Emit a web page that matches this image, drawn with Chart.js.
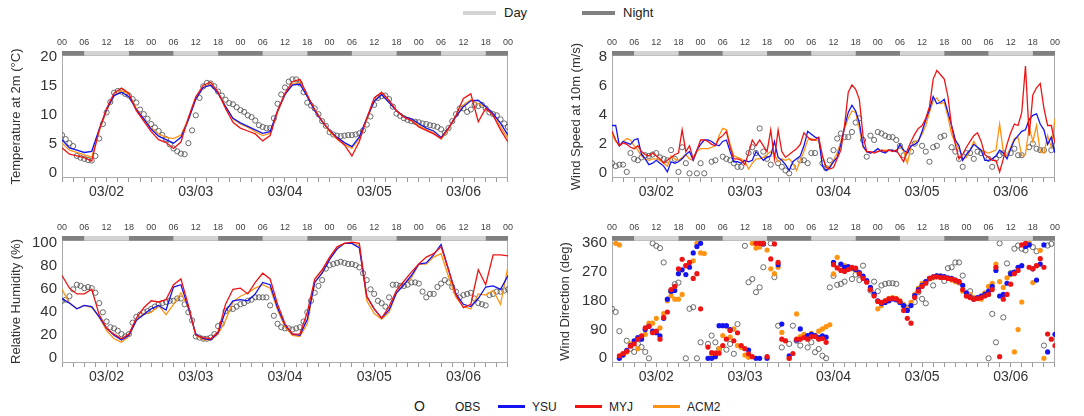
<!DOCTYPE html>
<html>
<head>
<meta charset="utf-8">
<title>Surface variables: OBS vs YSU / MYJ / ACM2</title>
<script src="https://cdn.jsdelivr.net/npm/chart.js@4.4.1/dist/chart.umd.min.js"></script>
<style>
  body { margin:0; width:1084px; height:416px; background:#fff; position:relative; overflow:hidden;
         font-family:"Liberation Sans", Arial, sans-serif; color:#222; }
  canvas { position:absolute; }
  .txt { position:absolute; white-space:nowrap; line-height:16px; }
  .sw { position:absolute; }
</style>
</head>
<body>
<div class="sw" style="left:463px;top:11px;width:33px;height:4px;background:#d4d4d4"></div>
<div class="txt" style="left:504px;top:5px;font-size:13px">Day</div>
<div class="sw" style="left:582px;top:11px;width:33px;height:4px;background:#808080"></div>
<div class="txt" style="left:623px;top:5px;font-size:13px">Night</div>

<canvas id="cT" width="520" height="180" style="left:0;top:28px"></canvas>
<canvas id="cW" width="527" height="180" style="left:540px;top:28px"></canvas>
<canvas id="cR" width="520" height="181" style="left:0;top:212px"></canvas>
<canvas id="cD" width="527" height="181" style="left:540px;top:212px"></canvas>
<div id="legend"></div>

<script>
// time axis: hours since 03/01 00 (local), top axis = local hour, bottom = date
const HOUR_TICKS  = [0,6,12,18,24,30,36,42,48,54,60,66,72,78,84,90,96,102,108,114,120];
const HOUR_LABELS = ['00','06','12','18','00','06','12','18','00','06','12','18','00','06','12','18','00','06','12','18','00'];
const MINOR_TICKS = [0,3,6,9,12,15,18,21,24,27,30,33,36,39,42,45,48,51,54,57,60,63,66,69,72,75,78,81,84,87,90,93,96,99,102,105,108,111,114,117,120];
const DATE_TICKS  = [12,36,60,84,108];
const DATE_LABELS = ['03/02','03/03','03/04','03/05','03/06'];
const DAY_SPANS   = [[6,18],[30,42],[54,66],[78,90],[102,114]];
const NIGHT_SPANS = [[0,6],[18,30],[42,54],[66,78],[90,102],[114,120]];

const BLUE = '#1414f0', RED = '#ee1414', ORANGE = '#ff9412', OBS_GREY = '#5a5a5a';

// ---- Temperature at 2 m (OBS hourly, models every 2 h)
const TEMP_OBS = [
  6.6,5.9,5.2,4.7,3.0,2.7,2.5,2.3,2.2,3.0,
  6.0,8.5,10.5,12.3,13.9,14.2,14.1,13.7,13.4,12.8,
  12.2,11.0,10.2,9.4,8.5,7.9,7.3,6.6,5.9,5.0,
  4.3,3.8,3.4,3.3,5.2,7.4,10.0,13.0,15.0,15.6,
  15.5,15.0,14.1,13.4,12.7,12.1,11.9,11.4,10.9,10.6,
  10.0,9.7,9.1,8.3,8.0,7.8,7.8,9.5,12.0,13.6,
  14.8,15.8,16.2,16.2,15.5,14.0,12.2,11.7,11.2,10.2,
  9.0,8.2,7.1,6.7,6.5,6.4,6.5,6.6,6.6,6.7,
  6.9,7.4,8.4,9.8,11.8,13.0,13.3,13.4,12.8,11.5,
  10.3,9.9,9.5,9.2,9.0,8.9,8.8,8.6,8.5,8.3,
  8.2,8.0,7.6,7.0,7.8,9.0,10.2,11.2,11.2,10.6,
  11.0,11.8,11.6,11.8,11.2,10.5,10.2,10.0,9.3,8.6,
  8.0];
const TEMP_YSU = [
  5.8,4.4,4.0,3.6,3.8,7.6,11.0,13.4,14.0,13.2,
  11.0,9.4,7.6,6.4,5.8,5.2,6.2,9.2,12.8,14.8,
  15.2,13.8,11.5,9.5,8.7,8.1,7.5,6.9,7.2,10.8,
  13.6,15.2,15.4,13.2,10.8,8.9,7.4,6.2,5.3,4.6,
  6.3,9.5,12.4,13.6,12.2,10.8,9.8,9.4,8.6,7.8,
  7.3,6.2,7.8,9.8,11.5,12.5,12.6,11.5,10.3,8.6,
  6.6];
const TEMP_MYJ = [
  4.4,3.3,3.0,2.7,2.1,7.5,11.2,13.8,14.7,13.8,
  10.8,9.0,7.2,5.8,5.3,4.3,5.4,9.6,13.2,15.2,
  15.7,14.0,11.2,8.8,7.8,7.3,6.8,5.6,6.5,10.8,
  13.8,15.8,16.2,13.5,11.0,9.0,7.4,6.0,4.9,3.0,
  5.5,9.5,13.0,14.0,12.6,10.8,9.7,9.1,8.0,7.4,
  6.8,6.0,7.8,10.0,12.9,13.7,8.9,11.2,10.0,7.5,
  5.4];
const TEMP_ACM2 = [
  5.2,4.0,3.6,3.2,2.8,7.2,10.8,13.4,14.3,13.6,
  11.2,9.4,7.8,6.8,6.2,6.0,6.6,9.4,12.8,14.8,
  15.3,14.0,11.6,9.4,8.5,7.9,7.2,6.5,6.9,10.5,
  13.6,15.4,15.7,13.3,10.9,8.9,7.2,5.9,5.0,4.3,
  6.0,9.2,12.5,13.7,12.4,10.8,9.8,9.4,8.2,7.5,
  7.0,5.9,7.6,9.8,11.8,12.7,12.0,11.5,10.0,8.0,
  6.0];

// ---- Wind speed at 10 m (all hourly)
const WS_OBS = [
  0.7,0.5,0.6,0.6,0.1,1.4,1.0,0.9,1.1,1.25,
  1.2,1.3,1.4,1.1,1.0,0.9,1.6,1.0,0.1,1.8,
  0.7,0.0,null,0.0,0.7,0.0,null,0.8,0.9,null,
  1.15,1.0,0.9,0.7,0.45,0.45,null,1.4,1.8,1.4,
  3.1,1.5,1.0,0.6,null,0.7,0.45,0.2,0.0,0.45,
  null,0.9,0.9,0.7,1.4,1.4,null,0.7,0.35,0.9,
  1.6,2.4,2.75,2.5,2.5,2.85,3.5,3.8,2.3,1.15,
  2.6,2.3,2.85,2.75,2.6,2.5,2.5,2.3,1.9,1.25,
  null,1.5,2.05,null,1.9,1.5,0.8,1.8,1.9,2.5,
  2.6,null,1.8,1.5,1.0,0.45,1.4,1.4,1.0,1.5,
  1.4,null,1.0,0.45,1.0,1.25,1.4,null,1.4,1.7,
  1.25,1.25,null,1.8,2.05,1.7,1.6,1.6,null,1.6,
  1.9];
const WS_YSU = [
  3.3,3.3,1.9,2.2,2.1,2.0,2.3,2.4,1.3,1.0,
  0.6,0.7,0.9,0.7,0.5,0.1,0.8,0.7,0.8,1.0,
  1.3,1.5,0.9,1.6,2.0,2.3,2.3,2.2,2.0,1.9,
  2.2,2.3,1.5,0.8,0.8,0.7,0.9,0.8,0.9,1.5,
  1.2,0.9,1.1,1.2,2.2,1.1,0.9,0.6,0.2,0.8,
  1.0,1.2,1.9,2.9,2.7,2.5,2.4,0.5,0.2,0.4,
  0.8,1.1,2.0,3.2,4.2,4.7,4.3,3.5,1.9,1.5,
  1.4,1.5,1.7,1.5,1.4,1.6,1.6,1.5,2.0,1.6,
  1.4,1.9,2.0,2.2,2.9,3.7,4.4,5.3,4.8,4.9,
  5.1,4.2,3.3,2.3,1.9,0.9,1.3,1.6,2.0,1.8,
  1.6,0.9,0.9,1.0,1.2,1.6,1.4,1.0,1.7,2.3,
  2.6,2.9,3.0,3.7,4.0,4.1,3.4,3.0,2.0,2.5,
  1.4];
const WS_MYJ = [
  2.9,2.3,1.9,2.1,2.0,1.8,1.7,1.9,1.5,1.3,
  1.2,1.4,1.2,1.0,0.7,0.9,1.1,1.3,1.4,3.0,
  1.5,1.9,1.0,1.6,2.3,2.3,2.2,2.0,1.9,2.4,
  2.6,2.9,1.8,1.0,1.0,0.9,0.6,1.4,2.3,1.9,
  2.3,1.9,1.5,3.0,1.0,3.0,1.5,1.1,1.3,1.5,
  1.7,2.0,2.8,2.5,2.3,2.3,2.5,1.2,0.4,0.3,
  0.4,1.0,1.6,3.3,5.6,6.1,5.8,5.1,2.6,1.5,
  1.5,1.4,1.5,1.6,1.5,1.6,1.5,1.6,1.2,0.8,
  1.6,2.2,2.7,3.1,3.3,3.8,4.6,6.5,7.1,6.8,
  6.5,5.3,3.2,2.0,1.0,1.3,1.8,2.2,2.6,2.8,
  2.2,1.3,1.1,0.9,0.9,0.1,1.0,2.0,2.8,3.4,
  3.3,4.2,7.4,2.6,5.4,5.9,6.2,4.5,3.3,3.3,
  2.1];
const WS_ACM2 = [
  2.7,2.2,1.9,2.2,2.4,2.3,1.9,1.6,1.2,1.0,
  0.9,1.0,1.0,0.9,0.7,0.5,1.2,1.0,0.9,1.1,
  1.3,1.0,0.9,1.5,1.7,1.7,1.7,1.8,1.9,2.6,
  3.1,3.0,2.0,1.2,1.1,1.0,0.8,0.3,0.7,1.0,
  1.0,1.1,1.3,1.5,1.3,0.8,1.0,0.9,1.0,0.7,
  0.2,0.9,1.5,2.3,2.4,2.3,2.2,1.2,0.4,0.5,
  0.9,1.4,2.2,3.1,3.8,4.3,4.2,3.1,1.8,1.5,
  1.4,1.5,1.5,1.6,1.6,1.6,1.6,1.5,1.9,1.5,
  0.7,1.8,2.2,2.3,2.7,3.3,4.2,5.0,5.2,4.8,
  4.9,3.9,2.7,2.1,1.7,1.0,1.1,1.6,2.2,1.8,
  1.6,1.5,1.4,1.5,1.6,3.4,1.5,1.2,1.8,2.4,
  2.5,1.2,1.3,3.2,2.2,3.3,1.5,1.4,2.6,1.8,
  3.8];

// ---- Relative humidity (OBS hourly, models every 2 h)
const RH_OBS = [
  50,51,54,60,64,63,61,62,61,57,
  48,40,32,27,26,24,21,19,21,31,
  36,38,40,41,43,45,47,48,49,50,
  50,52,52,47,40,33,19,18,17,17,
  18,21,28,30,41,43,43,45,47,48,
  50,51,53,53,53,53,46,37,30,27,
  26,26,25,26,27,32,40,50,57,63,
  68,78,81,82,83,84,83,82,82,81,
  79,74,68,60,56,50,48,45,53,64,
  64,63,63,64,66,66,65,58,53,56,
  56,62,65,68,66,62,58,53,55,56,
  57,52,48,47,46,55,56,58,58,59,
  60];
const RH_YSU = [
  52,48,43,46,45,36,26,20,16,20,
  33,38,43,46,42,62,64,44,21,17,
  16,22,41,50,51,50,56,66,64,44,
  29,21,20,34,66,74,86,95,100,100,
  96,54,43,35,42,57,64,72,82,83,
  90,99,77,56,47,45,52,62,63,60,
  72];
const RH_MYJ = [
  72,61,56,56,60,38,26,21,17,21,
  35,44,50,49,51,64,69,46,20,18,
  17,23,47,60,61,56,66,74,69,47,
  30,21,21,40,69,77,88,97,100,101,
  100,54,43,35,45,59,67,75,82,88,
  91,97,77,55,44,47,77,64,90,90,
  89];
const RH_ACM2 = [
  60,48,43,46,44,36,24,17,14,19,
  33,39,40,46,38,47,57,44,20,16,
  16,21,33,49,54,57,61,64,61,42,
  27,20,19,30,66,75,86,96,100,100,
  98,50,39,34,40,57,64,70,82,82,
  88,91,71,53,45,43,56,55,59,47,
  80];

// ---- Wind direction (all hourly, points only)
const WD_OBS = [
  155,145,85,null,55,30,20,45,35,20,
  0,360,352,345,300,null,210,232,237,null,
  0,155,160,0,50,null,45,71,50,29,
  null,27,45,14,107,null,352,238,248,207,
  222,285,null,360,254,102,34,null,45,102,
  55,40,null,34,50,19,29,8,0,222,
  258,230,233,240,null,248,262,245,290,null,
  212,240,210,228,233,235,235,233,null,165,
  158,null,176,207,186,172,null,228,257,null,
  242,282,285,300,300,259,null,210,null,null,
  null,null,0,139,50,360,128,297,267,343,
  353,343,338,358,348,335,null,40,353,358,
  null];
const WD_YSU = [
  null,null,0,10,25,40,55,65,60,90,
  100,85,80,70,125,185,210,212,265,277,
  262,285,330,350,360,null,0,0,5,102,
  102,102,90,null,null,null,null,26,null,0,
  0,358,0,null,null,293,107,null,8,null,
  57,92,null,71,75,71,65,70,66,null,
  300,null,295,285,287,283,278,268,257,243,
  222,201,180,172,175,180,186,183,175,165,
  150,165,196,215,228,240,250,255,258,257,
  256,252,250,245,240,228,205,192,185,190,
  195,200,210,225,275,195,200,235,265,270,
  285,290,350,355,280,245,295,355,20,null,
  75];
const WD_MYJ = [
  null,null,8,15,22,38,45,60,70,95,
  100,80,85,60,128,145,215,225,280,310,
  290,300,250,265,155,null,35,18,16,16,
  40,60,87,55,80,40,30,14,5,360,
  360,360,5,311,358,300,60,55,0,15,
  60,60,65,60,68,68,60,62,50,null,
  293,283,275,272,278,285,282,264,250,238,
  215,195,178,175,180,186,188,186,178,150,
  125,110,190,210,225,235,250,255,255,253,
  253,250,248,245,240,215,195,190,185,187,
  190,195,200,215,285,5,185,200,232,265,
  275,355,360,285,280,290,312,285,76,60,
  40];
const WD_ACM2 = [
  null,360,355,14,20,45,50,30,65,75,
  110,110,125,95,140,180,196,185,185,200,
  290,300,305,360,330,328,null,10,null,30,
  71,100,66,92,40,34,10,3,360,345,
  348,358,339,280,265,285,81,55,0,null,
  139,68,75,70,78,72,85,92,99,105,
  264,316,293,290,285,280,276,266,255,240,
  220,198,155,165,180,188,190,188,180,168,
  155,175,200,220,235,240,248,252,256,258,
  254,250,245,240,236,210,195,200,190,188,
  185,205,225,235,295,240,222,252,262,20,
  90,176,350,360,237,290,338,0,null,null,
  null];

const PANELS = [
  { id:'cT', title:'Temperature at 2m (°C)', yMin:-0.8, yMax:20.4, yTicks:[0,5,10,15,20], yW:62, titlePad:9,  topH:27,
    obs:TEMP_OBS, ysu:TEMP_YSU, myj:TEMP_MYJ, acm:TEMP_ACM2, step:2, dots:false },
  { id:'cW', title:'Wind Speed at 10m (m/s)', yMin:-0.32, yMax:8.16, yTicks:[0,2,4,6,8], yW:72, titlePad:29, topH:27,
    obs:WS_OBS, ysu:WS_YSU, myj:WS_MYJ, acm:WS_ACM2, step:1, dots:false },
  { id:'cR', title:'Relative Humidity (%)', yMin:-4.1, yMax:102.9, yTicks:[0,20,40,60,80,100], yW:62, titlePad:9, topH:28,
    obs:RH_OBS, ysu:RH_YSU, myj:RH_MYJ, acm:RH_ACM2, step:2, dots:false },
  { id:'cD', title:'Wind Direction (deg)', yMin:-14.7, yMax:370.3, yTicks:[0,90,180,270,360], yW:72, titlePad:18, topH:28,
    obs:WD_OBS, ysu:WD_YSU, myj:WD_MYJ, acm:WD_ACM2, step:1, dots:true }
];

function pts(vals, step) {
  return vals.map((v, i) => ({ x: i * step, y: v }));
}

// plot frame + day/night strip on top of each panel
const panelFrame = {
  id: 'panelFrame',
  beforeDatasetsDraw(chart) {
    const { ctx, chartArea: a } = chart;
    ctx.save();
    ctx.strokeStyle = '#ababab';
    ctx.lineWidth = 1;
    ctx.strokeRect(Math.round(a.left) + 0.5, Math.round(a.top) + 0.5,
                   Math.round(a.right - a.left) - 1, Math.round(a.bottom - a.top) - 1);
    ctx.restore();
  },
  afterDraw(chart) {
    const { ctx, chartArea: a, scales: { x } } = chart;
    ctx.save();
    const strip = (spans, color) => spans.forEach(([s, e]) => {
      const x0 = x.getPixelForValue(s), x1 = x.getPixelForValue(e);
      ctx.fillStyle = color;
      ctx.fillRect(x0, a.top - 4, x1 - x0, 4.5);
    });
    strip(DAY_SPANS, '#d3d3d3');
    strip(NIGHT_SPANS, '#808080');
    ctx.restore();
  }
};

function build(p) {
  const models = [[p.myj, 'MYJ', RED, 1], [p.ysu, 'YSU', BLUE, 2], [p.acm, 'ACM2', ORANGE, 3]];
  const sets = models.map(([vals, label, color, order]) => p.dots
    ? { label, data: pts(vals, p.step), showLine: false, pointRadius: 2.6, pointBackgroundColor: color,
        pointBorderWidth: 0, order }
    : { label, data: pts(vals, p.step), showLine: true, borderColor: color, borderWidth: 1.3,
        pointRadius: 0, tension: 0, order });
  sets.push({ label: 'OBS', data: pts(p.obs, 1), showLine: false, pointRadius: 2.6,
              pointBorderColor: OBS_GREY, pointBackgroundColor: 'rgba(0,0,0,0)', pointBorderWidth: 0.9, order: 5 });

  new Chart(document.getElementById(p.id), {
    type: 'scatter',
    data: { datasets: sets },
    options: {
      responsive: false, animation: false, events: [],
      layout: { padding: { left: 0, right: 12, top: 0, bottom: 0 } },
      plugins: { legend: { display: false }, tooltip: { enabled: false } },
      scales: {
        x: {
          type: 'linear', position: 'bottom', min: 0, max: 120,
          afterBuildTicks: s => { s.ticks = MINOR_TICKS.map(v => ({ value: v })); },
          afterFit: s => { s.height = 30; },
          grid: { display: true, drawOnChartArea: false, drawTicks: true, tickLength: 4, color: '#9a9a9a' },
          border: { display: false },
          ticks: { autoSkip: false, maxRotation: 0, padding: 2, color: '#333', font: { size: 14 },
                   callback: v => { const i = DATE_TICKS.indexOf(v); return i < 0 ? '' : DATE_LABELS[i]; } }
        },
        xt: {
          type: 'linear', position: 'top', min: 0, max: 120,
          afterBuildTicks: s => { s.ticks = HOUR_TICKS.map(v => ({ value: v })); },
          afterFit: s => { s.height = p.topH; },
          grid: { display: false, drawTicks: false },
          border: { display: false },
          ticks: { autoSkip: false, maxRotation: 0, padding: 7, color: '#444', font: { size: 9 },
                   callback: (v, i) => HOUR_LABELS[i] }
        },
        y: {
          min: p.yMin, max: p.yMax,
          afterBuildTicks: s => { s.ticks = p.yTicks.map(v => ({ value: v })); },
          afterFit: s => { s.width = p.yW; },
          grid: { display: false, drawTicks: false },
          border: { display: false },
          ticks: { padding: 5, color: '#333', font: { size: 15 } },
          title: { display: true, text: p.title, color: '#333', font: { size: 13 },
                   padding: { top: p.titlePad, bottom: 0 } }
        }
      }
    },
    plugins: [panelFrame]
  });
}

Chart.defaults.font.family = '"Liberation Sans", Arial, sans-serif';
PANELS.forEach(build);

// bottom series legend
const LEGEND = [
  { label: 'OBS', color: null, symX: 414, txtX: 455 },
  { label: 'YSU', color: BLUE, symX: 498, txtX: 532 },
  { label: 'MYJ', color: RED, symX: 575, txtX: 609 },
  { label: 'ACM2', color: ORANGE, symX: 653, txtX: 687 }
];
const lg = document.getElementById('legend');
LEGEND.forEach(item => {
  if (item.color) {
    const sw = document.createElement('div');
    sw.className = 'sw';
    sw.style.cssText = `left:${item.symX}px;top:405px;width:27px;height:3px;background:${item.color}`;
    lg.appendChild(sw);
  } else {
    const o = document.createElement('div');
    o.className = 'txt';
    o.style.cssText = `left:${item.symX}px;top:398px;font-size:14px`;
    o.textContent = 'O';
    lg.appendChild(o);
  }
  const t = document.createElement('div');
  t.className = 'txt';
  t.style.cssText = `left:${item.txtX}px;top:399px;font-size:12px`;
  t.textContent = item.label;
  lg.appendChild(t);
});
</script>
</body>
</html>
